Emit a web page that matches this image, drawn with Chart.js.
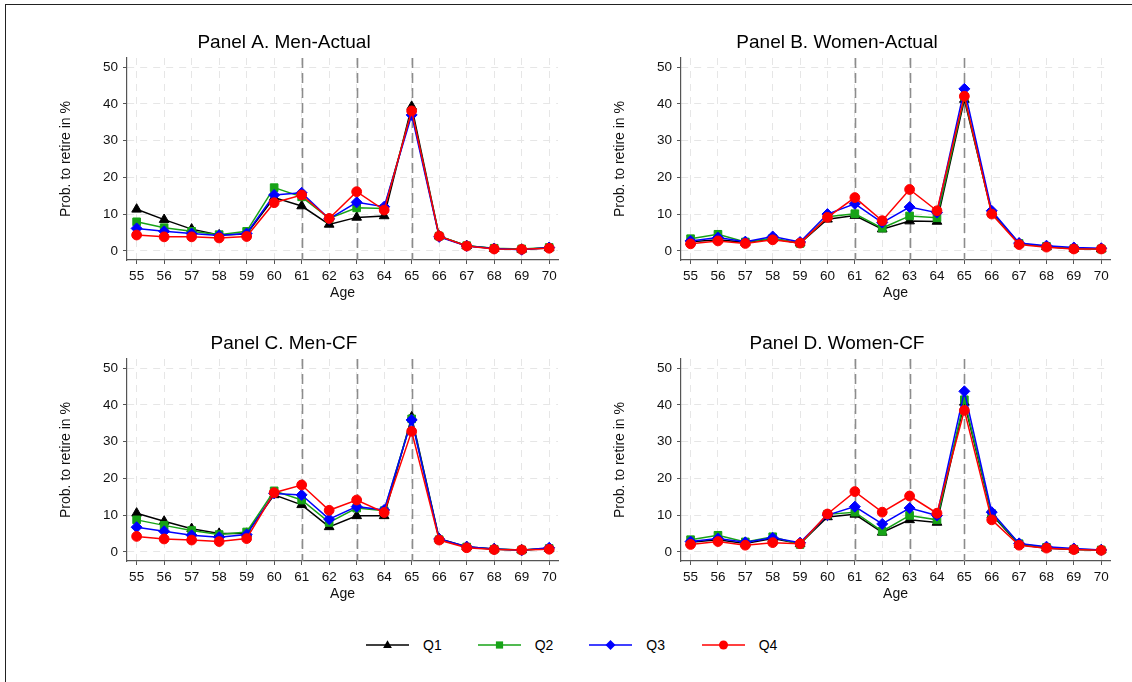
<!DOCTYPE html>
<html>
<head>
<meta charset="utf-8">
<script src="https://cdn.jsdelivr.net/npm/chart.js@4.4.1/dist/chart.umd.min.js"></script>
<style>
  html, body { margin: 0; padding: 0; background: #fff; width: 1132px; height: 682px; overflow: hidden;
    font-family: 'Liberation Sans', Arial, Helvetica, sans-serif; }
  #frame { position: absolute; left: 5px; top: 4px; width: 1300px; height: 900px;
    border-left: 1.5px solid #222; border-top: 1.5px solid #222; }
  canvas { position: absolute; }
  .leg { position: absolute; top: 636px; height: 18px; display: flex; align-items: center;
    font-size: 14px; color: #000; }
  .leg svg { display: block; margin-right: 14px; }
</style>
</head>
<body>
<div id="frame"></div>
<canvas id="pA" width="560" height="290" style="left:10px;top:20px"></canvas>
<canvas id="pB" width="558" height="290" style="left:564px;top:20px"></canvas>
<canvas id="pC" width="560" height="290" style="left:10px;top:321px"></canvas>
<canvas id="pD" width="558" height="290" style="left:564px;top:321px"></canvas>
<div id="legend"></div>
<script>
// Age axis and value axis ticks
const ages = [55, 56, 57, 58, 59, 60, 61, 62, 63, 64, 65, 66, 67, 68, 69, 70];
const yTicks = [0, 10, 20, 30, 40, 50];
const refAges = [61, 63, 65];

// Quartile names
const quartiles = ['Q1', 'Q2', 'Q3', 'Q4'];

// Panel A. Men-Actual (probability to retire, %)
const menActQ1 = [11.3, 8.5, 5.9, 4.3, 4.6, 14.5, 12.2, 7.2, 9.1, 9.5, 39.3, 4.0, 1.4, 0.6, 0.4, 0.8];
const menActQ2 = [7.9, 6.3, 5.3, 4.4, 5.3, 17.2, 14.7, 8.8, 11.7, 11.5, 37.9, 4.0, 1.4, 0.7, 0.5, 0.9];
const menActQ3 = [6.1, 5.3, 4.7, 4.2, 4.7, 15.2, 15.8, 8.7, 13.2, 12.0, 37.0, 3.8, 1.3, 0.6, 0.3, 0.9];
const menActQ4 = [4.3, 3.8, 3.8, 3.5, 3.9, 13.1, 15.2, 8.8, 16.1, 11.1, 38.1, 4.0, 1.3, 0.5, 0.4, 0.7];

// Panel B. Women-Actual
const womenActQ1 = [2.5, 3.0, 2.3, 3.3, 2.1, 8.6, 9.6, 5.9, 8.1, 8.0, 41.2, 10.5, 2.0, 1.1, 0.6, 0.5];
const womenActQ2 = [3.3, 4.5, 2.4, 3.4, 2.0, 9.3, 10.1, 6.2, 9.5, 9.0, 41.9, 10.2, 2.0, 1.2, 0.6, 0.5];
const womenActQ3 = [2.7, 3.6, 2.5, 3.9, 2.4, 10.0, 12.8, 7.7, 11.9, 10.4, 44.1, 10.9, 2.1, 1.4, 0.9, 0.7];
const womenActQ4 = [1.9, 2.7, 2.0, 3.0, 2.1, 9.1, 14.5, 8.2, 16.7, 10.9, 42.1, 10.0, 1.7, 1.0, 0.5, 0.5];

// Panel C. Men-CF
const menCfQ1 = [10.5, 8.3, 6.3, 5.0, 5.0, 15.5, 12.8, 6.8, 9.8, 9.8, 36.7, 3.6, 1.4, 0.8, 0.5, 0.9];
const menCfQ2 = [8.7, 7.2, 5.8, 4.7, 5.4, 16.6, 14.1, 8.0, 11.9, 11.2, 36.2, 3.3, 1.3, 0.7, 0.5, 0.9];
const menCfQ3 = [6.7, 5.6, 4.5, 4.0, 4.7, 15.9, 15.5, 8.9, 12.3, 11.4, 35.9, 3.5, 1.4, 0.8, 0.4, 1.1];
const menCfQ4 = [4.2, 3.5, 3.2, 2.8, 3.6, 16.1, 18.2, 11.3, 14.1, 10.7, 32.8, 3.2, 1.1, 0.6, 0.5, 0.7];

// Panel D. Women-CF
const womenCfQ1 = [2.6, 3.3, 2.3, 3.6, 2.2, 9.5, 10.2, 5.3, 8.7, 8.0, 40.7, 10.1, 2.0, 1.0, 0.6, 0.5];
const womenCfQ2 = [3.3, 4.5, 2.7, 4.1, 2.0, 10.2, 10.8, 5.6, 9.9, 8.7, 41.4, 10.4, 2.2, 1.2, 0.7, 0.5];
const womenCfQ3 = [2.8, 3.6, 2.6, 3.8, 2.5, 10.0, 12.3, 7.6, 11.9, 9.9, 43.7, 10.8, 2.3, 1.4, 0.9, 0.5];
const womenCfQ4 = [2.0, 2.8, 1.8, 2.5, 2.2, 10.3, 16.4, 10.8, 15.2, 10.5, 38.5, 8.7, 1.8, 1.0, 0.6, 0.4];

// Series styling
const colors = ['#000000', '#17a317', '#0000ff', '#ff0000'];
const markers = ['triangle', 'rect', 'rectRot', 'circle'];
const markerRadius = [5.6, 5.4, 5.5, 4.9];

const FONT = "'Liberation Sans', Arial, Helvetica, sans-serif";
Chart.defaults.font.family = FONT;
Chart.defaults.color = '#111';

// Dashed vertical reference lines at the statutory ages
const refLinesPlugin = {
  id: 'refLines',
  beforeDatasetsDraw(chart) {
    const { ctx, chartArea, scales } = chart;
    ctx.save();
    ctx.strokeStyle = '#8c8c8c';
    ctx.lineWidth = 1.6;
    ctx.setLineDash([10, 5]);
    refAges.forEach(a => {
      const px = Math.round(scales.x.getPixelForValue(a)) + 0.5;
      ctx.beginPath();
      ctx.moveTo(px, chartArea.top);
      ctx.lineTo(px, chartArea.bottom);
      ctx.stroke();
    });
    ctx.restore();
  }
};

function makePanel(id, title, series) {
  const datasets = series.map((vals, i) => ({
    label: quartiles[i],
    data: vals,
    borderColor: colors[i],
    backgroundColor: colors[i],
    borderWidth: 1.5,
    pointStyle: markers[i],
    pointRadius: markerRadius[i],
    pointBorderWidth: 1,
    pointBorderColor: colors[i],
    pointBackgroundColor: colors[i],
    tension: 0,
    order: series.length - i
  }));
  return new Chart(document.getElementById(id), {
    type: 'line',
    data: { labels: ages, datasets },
    plugins: [refLinesPlugin],
    options: {
      responsive: false,
      animation: false,
      devicePixelRatio: 1,
      layout: { padding: { left: 0, right: 12, top: 0, bottom: 0 } },
      plugins: {
        legend: { display: false },
        tooltip: { enabled: false },
        title: {
          display: true, text: title, color: '#000',
          font: { size: 19, weight: 'normal', family: FONT, lineHeight: 1.2 },
          padding: { top: 11.3, bottom: 3.9 }
        }
      },
      scales: {
        x: {
          type: 'linear', min: 54.65, max: 70.32,
          afterBuildTicks: s => { s.ticks = ages.map(v => ({ value: v })); },
          afterFit: s => { s.height = 50; },
          grid: { color: '#e6e6e6', lineWidth: 1, drawTicks: true, tickLength: 4, tickColor: '#555', tickWidth: 1 },
          border: { display: true, color: '#555', width: 1.2, dash: [7, 6] },
          ticks: { autoSkip: false, maxRotation: 0, minRotation: 0, padding: 4, color: '#111',
                   font: { size: 13.5 }, callback: v => String(v) },
          title: { display: true, text: 'Age', color: '#111', font: { size: 14 }, padding: { top: 0, bottom: 8 } }
        },
        y: {
          min: -2.5, max: 52.5,
          afterBuildTicks: s => { s.ticks = yTicks.map(v => ({ value: v })); },
          afterFit: s => { s.width = 117; },
          grid: { color: '#e6e6e6', lineWidth: 1, drawTicks: true, tickLength: 4, tickColor: '#555', tickWidth: 1 },
          border: { display: true, color: '#555', width: 1.2, dash: [7, 6] },
          ticks: { padding: 5, color: '#111', font: { size: 13.5 }, callback: v => String(v) },
          title: { display: true, text: 'Prob. to retire in %', color: '#111', font: { size: 14 },
                   padding: { top: 48, bottom: 0 } }
        }
      }
    }
  });
}

makePanel('pA', 'Panel A. Men-Actual', [menActQ1, menActQ2, menActQ3, menActQ4]);
makePanel('pB', 'Panel B. Women-Actual', [womenActQ1, womenActQ2, womenActQ3, womenActQ4]);
makePanel('pC', 'Panel C. Men-CF', [menCfQ1, menCfQ2, menCfQ3, menCfQ4]);
makePanel('pD', 'Panel D. Women-CF', [womenCfQ1, womenCfQ2, womenCfQ3, womenCfQ4]);

// Shared legend below the panels
function markerSvg(type, color) {
  const cx = 21.5, cy = 7;
  if (type === 'triangle') return `<polygon points="${cx},${cy - 4.8} ${cx + 4.4},${cy + 3} ${cx - 4.4},${cy + 3}" fill="${color}"/>`;
  if (type === 'rect') return `<rect x="${cx - 3.6}" y="${cy - 3.6}" width="7.2" height="7.2" fill="${color}"/>`;
  if (type === 'rectRot') return `<polygon points="${cx},${cy - 5} ${cx + 5},${cy} ${cx},${cy + 5} ${cx - 5},${cy}" fill="${color}"/>`;
  return `<circle cx="${cx}" cy="${cy}" r="4.5" fill="${color}"/>`;
}
const legendLefts = [366, 477.7, 589.3, 701.7];
const legend = document.getElementById('legend');
quartiles.forEach((q, i) => {
  const item = document.createElement('div');
  item.className = 'leg';
  item.style.left = legendLefts[i] + 'px';
  item.innerHTML = `<svg width="43" height="14" viewBox="0 0 43 14">
      <line x1="0" y1="7" x2="43" y2="7" stroke="${colors[i]}" stroke-width="1.4"/>
      ${markerSvg(markers[i], colors[i])}</svg><span>${q}</span>`;
  legend.appendChild(item);
});
</script>
</body>
</html>
